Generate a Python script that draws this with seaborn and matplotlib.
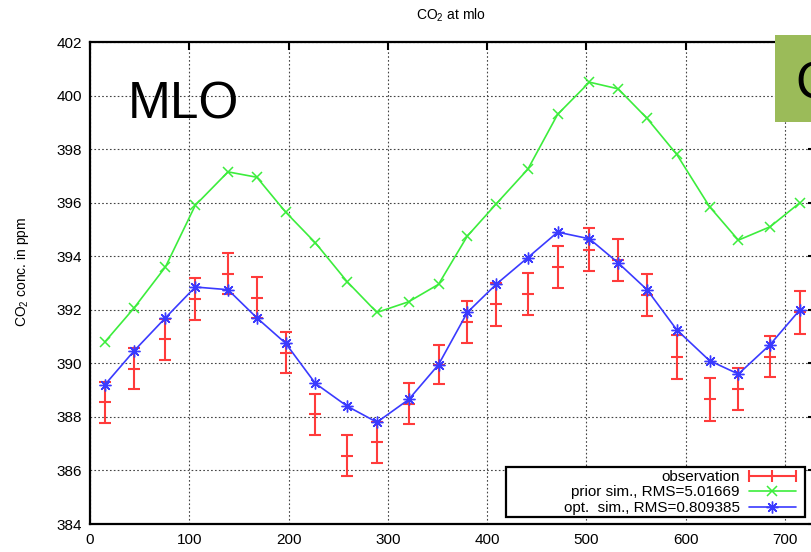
import numpy as np
import pandas as pd
import matplotlib
matplotlib.use("Agg")
import matplotlib.pyplot as plt
from matplotlib.lines import Line2D
from matplotlib.legend_handler import HandlerLine2D
from matplotlib.patches import Rectangle
import seaborn as sns

# Day of the simulation period for each monthly value
day = [15, 44, 76, 106, 139, 168, 197, 227, 259, 289, 321, 351,
       380, 409, 441, 471, 503, 532, 561, 591, 624, 653, 685, 715]

# Observed CO2 at Mauna Loa (ppm) and its uncertainty
obs = [388.55, 389.80, 390.90, 392.40, 393.35, 392.45, 390.40, 388.10,
       386.55, 387.05, 388.50, 389.95, 391.55, 392.20, 392.60, 393.60,
       394.25, 393.85, 392.55, 390.25, 388.65, 389.05, 390.25, 391.90]
obs_err = [0.77, 0.77, 0.76, 0.77, 0.76, 0.76, 0.77, 0.77,
           0.77, 0.76, 0.76, 0.74, 0.79, 0.80, 0.79, 0.80,
           0.81, 0.78, 0.80, 0.82, 0.81, 0.79, 0.77, 0.80]

# Prior and optimised model simulations (ppm)
prior = [390.80, 392.05, 393.60, 395.90, 397.15, 396.95, 395.65, 394.50,
         393.05, 391.90, 392.30, 392.95, 394.75, 395.95, 397.25, 399.30,
         400.50, 400.25, 399.15, 397.80, 395.85, 394.60, 395.10, 396.00]
opt = [389.20, 390.45, 391.70, 392.85, 392.75, 391.70, 390.75, 389.25,
       388.40, 387.80, 388.65, 389.95, 391.90, 392.95, 393.95, 394.90,
       394.65, 393.75, 392.75, 391.25, 390.10, 389.60, 390.70, 392.00]

x_ticks = [0, 100, 200, 300, 400, 500, 600, 700]
y_ticks = [384, 386, 388, 390, 392, 394, 396, 398, 400, 402]
labels = ["observation", "prior sim., RMS=5.01669", "opt.  sim., RMS=0.809385"]

df = pd.DataFrame({"day": day, "obs": obs, "err": obs_err,
                   "prior": prior, "opt": opt})

sns.set_theme(style="white")
plt.rcParams["font.family"] = ["Liberation Sans", "DejaVu Sans"]
plt.rcParams["text.color"] = "black"
plt.rcParams["mathtext.fontset"] = "custom"
plt.rcParams["mathtext.rm"] = "Liberation Sans"
plt.rcParams["mathtext.it"] = "Liberation Sans:italic"
plt.rcParams["mathtext.bf"] = "Liberation Sans:bold"

RED = "#ff3b3b"
GREEN = "#3ced3c"
BLUE = "#3a3aff"

W, H = 812, 552
fig = plt.figure(figsize=(W / 100, H / 100), dpi=100)
ax = fig.add_axes([90 / W, 28 / H, 726 / W, 482 / H])

# observations with error bars
ax.errorbar(df["day"], df["obs"], yerr=df["err"], fmt="_", color=RED,
            ecolor=RED, elinewidth=1.5, capsize=4, capthick=1.5,
            markersize=8, markeredgewidth=1.5, zorder=3)

# model curves
sns.lineplot(data=df, x="day", y="prior", color=GREEN, marker="x",
             markersize=7, markeredgewidth=1.1, markeredgecolor=GREEN,
             linewidth=1.2, errorbar=None, ax=ax, zorder=2)
sns.lineplot(data=df, x="day", y="opt", color=BLUE, marker=(8, 2, 0),
             markersize=8.5, markeredgewidth=1.0, markeredgecolor=BLUE,
             linewidth=1.2, errorbar=None, ax=ax, zorder=4)

ax.set_xlim(0, 731.2)
ax.set_ylim(384, 402)
ax.set_xticks(x_ticks)
ax.set_yticks(y_ticks)
ax.set_xlabel("")
ax.set_ylabel("")
ax.grid(True, linestyle=(0, (1.5, 2)), color="#444444", linewidth=0.8)
ax.set_axisbelow(True)
ax.tick_params(direction="in", length=5.8, width=1.5, top=True, right=True,
               labelsize=11, colors="black")
ax.tick_params(axis="x", pad=6.5)
ax.tick_params(axis="y", pad=5.8)
for s in ax.spines.values():
    s.set_linewidth(1.6)
    s.set_color("black")

# legend: boxed, labels right-aligned before the sample lines
ax.add_patch(Rectangle((0.573, 0.0145), 0.412, 0.1038, transform=ax.transAxes,
                       facecolor="white", edgecolor="black", linewidth=1.6,
                       zorder=5))
handles = [
    Line2D([], [], color=RED, lw=1.5, marker="|", markersize=8, mew=1.5),
    Line2D([], [], color=GREEN, lw=1.2, marker="x", markersize=7, mew=1.1),
    Line2D([], [], color=BLUE, lw=1.2, marker=(8, 2, 0), markersize=8.5, mew=1.0),
]
leg = ax.legend(handles, labels, loc="center right",
                bbox_to_anchor=(0.9725, 0.0654), frameon=False,
                markerfirst=False, handlelength=3.1, handletextpad=0.6,
                borderpad=0, borderaxespad=0, labelspacing=0.1, fontsize=11,
                handler_map={handles[0]: HandlerLine2D(numpoints=3, marker_pad=0)})
leg.set_zorder(6)
for t in leg.get_texts():
    t.set_color("black")

# titles and annotations
fig.text(451 / W, 1 - 15 / H, "CO$_2$ at mlo", ha="center", va="center",
         fontsize=10, color="black")
fig.text(22 / W, 1 - 272 / H, "CO$_2$ conc. in ppm", rotation=90,
         ha="center", va="center", fontsize=10, color="black")
fig.text(128 / W, 1 - 118 / H, "MLO", fontsize=37, ha="left", va="baseline",
         color="black")
fig.add_artist(Rectangle((775 / W, 1 - 122 / H), 40 / W, 87 / H,
                         transform=fig.transFigure, facecolor="#9bbb59",
                         edgecolor="none", zorder=10))
fig.text(795 / W, 1 - 99 / H, "CO$_2$", fontsize=37, ha="left",
         va="baseline", color="black", zorder=11)

fig.savefig("out.png", dpi=100)
